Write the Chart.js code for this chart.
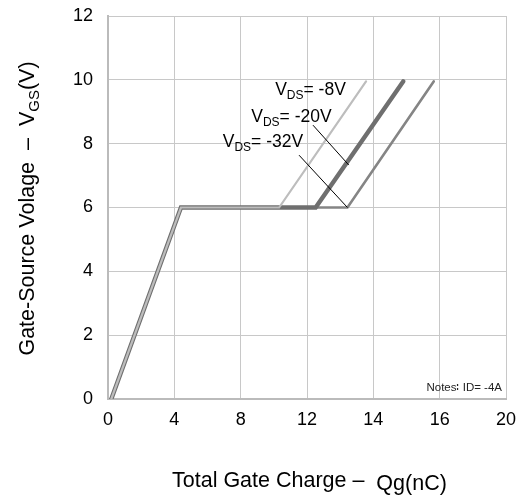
<!DOCTYPE html>
<html>
<head>
<meta charset="utf-8">
<script src="https://cdn.jsdelivr.net/npm/chart.js@4/dist/chart.umd.min.js"></script>
<style>
  html, body { margin: 0; padding: 0; background: #fff; }
  #wrap { width: 527px; height: 495px; }
</style>
</head>
<body>
<div id="wrap"><canvas id="qgChart"></canvas></div>
<script>
// x positions are read in grid steps (the original axis labels are not evenly valued)
const xTickLabels = ['0', '4', '8', '12', '14', '16', '20'];
const yTicks = [0, 2, 4, 6, 8, 10, 12];

const seriesNames = ['-8V', '-20V', '-32V'];
const vds8X = [0.05, 1.10, 2.58, 3.89];
const vds8Y = [0, 6, 6, 9.95];
const vds20X = [0.05, 1.10, 3.13, 4.45];
const vds20Y = [0, 6, 6, 9.95];
const vds32X = [0.05, 1.10, 3.61, 4.91];
const vds32Y = [0, 6, 6, 9.95];

const toPoints = (xs, ys) => xs.map((x, i) => ({ x: x, y: ys[i] }));

const FONT = '"Liberation Sans", Arial, sans-serif';

// Draws text where part of it is a subscript
function drawRich(ctx, parts, x, y, size) {
    let cx = x;
    parts.forEach(p => {
        const s = p.sub ? Math.round(size * 0.68) : size;
        ctx.font = s + 'px ' + FONT;
        ctx.fillText(p.t, cx, y + (p.sub ? size * 0.22 : 0) + (p.dy || 0));
        cx += ctx.measureText(p.t).width;
    });
    return cx - x;
}
function richWidth(ctx, parts, size) {
    let w = 0;
    parts.forEach(p => {
        const s = p.sub ? Math.round(size * 0.68) : size;
        ctx.font = s + 'px ' + FONT;
        w += ctx.measureText(p.t).width;
    });
    return w;
}

const annotations = {
    id: 'annotations',
    afterDatasetsDraw(chart) {
        const ctx = chart.ctx;
        const xs = chart.scales.x, ys = chart.scales.y;
        ctx.save();
        ctx.fillStyle = '#000';
        ctx.textBaseline = 'alphabetic';

        // series labels
        const labelPos = [[2.52, 9.52], [2.16, 8.68], [1.73, 7.89]];
        seriesNames.forEach((name, i) => {
            drawRich(ctx, [{ t: 'V' }, { t: 'DS', sub: true }, { t: '= ' + name }],
                xs.getPixelForValue(labelPos[i][0]), ys.getPixelForValue(labelPos[i][1]), 17.5);
        });

        // leader lines
        ctx.strokeStyle = '#000';
        ctx.lineWidth = 1;
        [[3.09, 8.58, 3.63, 7.33], [2.88, 7.64, 3.61, 6.0]].forEach(l => {
            ctx.beginPath();
            ctx.moveTo(xs.getPixelForValue(l[0]), ys.getPixelForValue(l[1]));
            ctx.lineTo(xs.getPixelForValue(l[2]), ys.getPixelForValue(l[3]));
            ctx.stroke();
        });

        // notes
        ctx.font = '11.5px ' + FONT;
        ctx.textAlign = 'right';
        ctx.fillStyle = '#222';
        ctx.fillText('Notes\u2236 ID= -4A', chart.chartArea.right - 4, chart.chartArea.bottom - 8);
        ctx.textAlign = 'left';
        ctx.fillStyle = '#000';

        // y title
        const yParts = [{ t: 'Gate-Source Volage  \u2013  V' }, { t: 'GS', sub: true }, { t: '(V)' }];
        const yw = richWidth(ctx, yParts, 21.5);
        ctx.translate(34, (chart.chartArea.top + chart.chartArea.bottom) / 2 + 1);
        ctx.rotate(-Math.PI / 2);
        drawRich(ctx, yParts, -yw / 2, 0, 21.5);
        ctx.setTransform(1, 0, 0, 1, 0, 0);
        ctx.scale(chart.currentDevicePixelRatio, chart.currentDevicePixelRatio);

        // x title
        const xParts = [{ t: 'Total Gate Charge \u2013  ' }, { t: 'Qg(nC)', dy: 3 }];
        drawRich(ctx, xParts, 172, 487, 21.5);
        ctx.restore();
    }
};

new Chart(document.getElementById('qgChart').getContext('2d'), {
    type: 'line',
    data: {
        datasets: [
            { label: 'VDS= -8V', data: toPoints(vds8X, vds8Y), borderColor: '#bdbdbd', borderWidth: 2.2 },
            { label: 'VDS= -20V', data: toPoints(vds20X, vds20Y), borderColor: '#6f6f6f', borderWidth: 4.4 },
            { label: 'VDS= -32V', data: toPoints(vds32X, vds32Y), borderColor: '#858585', borderWidth: 2.6 }
        ]
    },
    options: {
        responsive: true,
        maintainAspectRatio: false,
        animation: false,
        elements: {
            point: { radius: 0 },
            line: { tension: 0, borderCapStyle: 'round', borderJoinStyle: 'miter' }
        },
        layout: { padding: { top: 16, right: 21, left: 0, bottom: 0 } },
        plugins: {
            legend: { display: false },
            tooltip: { enabled: false }
        },
        scales: {
            x: {
                type: 'linear',
                min: 0,
                max: 6,
                afterFit: s => { s.height = 96; s.paddingLeft = 0; s.paddingRight = 0; },
                afterBuildTicks: s => { s.ticks = xTickLabels.map((_, i) => ({ value: i })); },
                ticks: {
                    padding: 10,
                    color: '#000',
                    font: { family: FONT, size: 18 },
                    maxRotation: 0,
                    callback: (v) => xTickLabels[v]
                },
                grid: { color: '#c8c8c8', lineWidth: 1, drawTicks: false },
                border: { color: '#bbbbbb', width: 2 }
            },
            y: {
                min: 0,
                max: 12,
                afterFit: s => { s.width = 108; s.paddingTop = 0; s.paddingBottom = 0; },
                afterBuildTicks: s => { s.ticks = yTicks.map(v => ({ value: v })); },
                ticks: {
                    padding: 15,
                    color: '#000',
                    font: { family: FONT, size: 18 }
                },
                grid: { color: '#c8c8c8', lineWidth: 1, drawTicks: false },
                border: { color: '#bbbbbb', width: 2 }
            }
        }
    },
    plugins: [annotations]
});
</script>
</body>
</html>
